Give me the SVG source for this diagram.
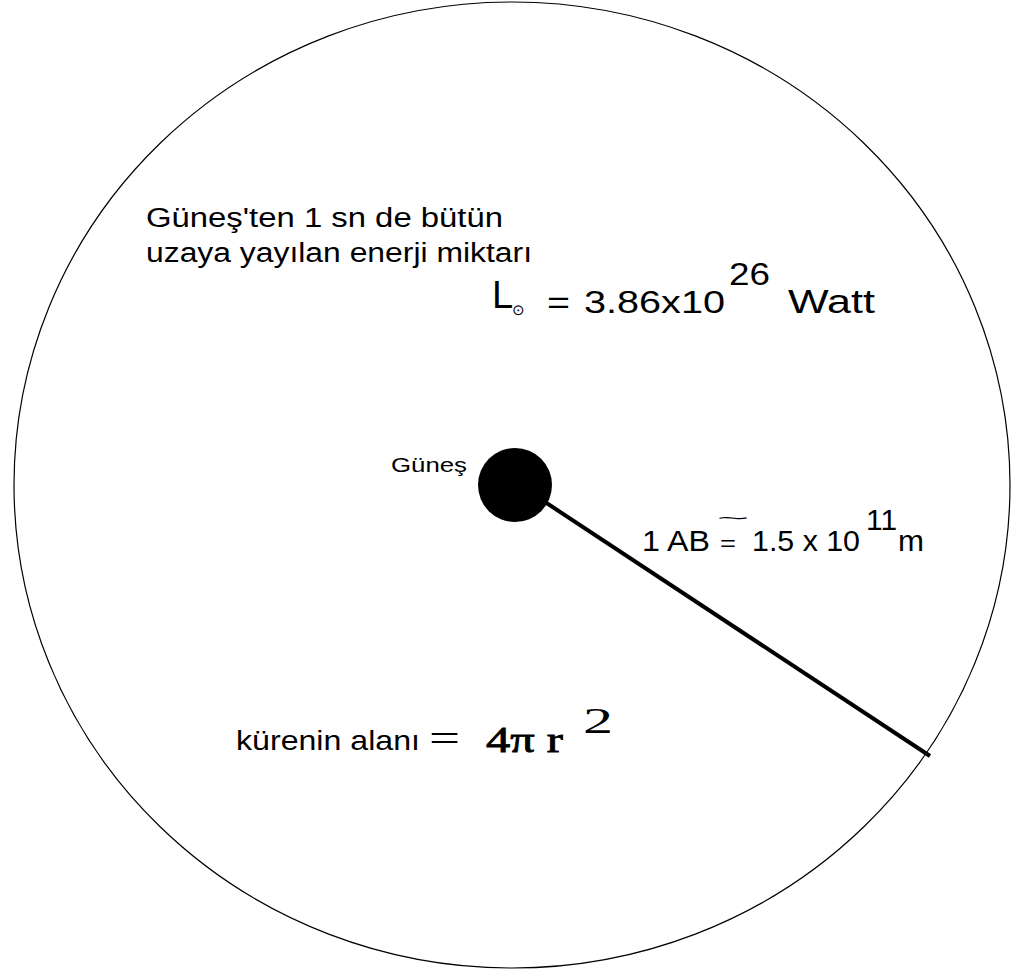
<svg xmlns="http://www.w3.org/2000/svg" width="1012" height="969" viewBox="0 0 1012 969">
<style>
.s{font-family:"Liberation Sans",Arial,sans-serif;fill:#000}
.t{font-family:"Liberation Serif","Times New Roman",serif;fill:#000}
</style>
<rect width="1012" height="969" fill="#fff"/>
<g id="space"><ellipse cx="512" cy="485" rx="498" ry="483" fill="none" stroke="#000" stroke-width="1.2"/></g>
<g id="connectors"><line x1="545" y1="502" x2="930" y2="756" stroke="#000" stroke-width="4"/></g>
<g id="sun"><circle cx="515" cy="485" r="37" fill="#000"/><text class="s" x="391" y="472" font-size="21" textLength="76" lengthAdjust="spacingAndGlyphs">Güneş</text></g>
<g id="energy-label">
<text class="s" x="146" y="227" font-size="27" textLength="357" lengthAdjust="spacingAndGlyphs">Güneş'ten 1 sn de bütün</text>
<text class="s" x="146" y="262" font-size="27" textLength="386" lengthAdjust="spacingAndGlyphs">uzaya yayılan enerji miktarı</text>
</g>
<g id="luminosity">
<text class="s" x="492" y="308" font-size="38">L</text>
<text class="s" x="512" y="315" font-size="15">⊙</text>
<text class="s" x="547" y="313" font-size="31" textLength="23" lengthAdjust="spacingAndGlyphs">=</text>
<text class="s" x="584" y="313" font-size="31" textLength="141" lengthAdjust="spacingAndGlyphs">3.86x10</text>
<text class="s" x="729" y="285" font-size="31" textLength="41" lengthAdjust="spacingAndGlyphs">26</text>
<text class="s" x="788" y="313" font-size="33" textLength="87" lengthAdjust="spacingAndGlyphs">Watt</text>
</g>
<g id="au">
<text class="s" x="642" y="551" font-size="29" textLength="68" lengthAdjust="spacingAndGlyphs">1 AB</text>
<text class="s" x="720" y="551" font-size="22" textLength="16" lengthAdjust="spacingAndGlyphs">=</text>
<text class="s" x="717" y="524" font-size="16" textLength="32" lengthAdjust="spacingAndGlyphs">~</text>
<text class="s" x="752" y="551" font-size="29" textLength="108" lengthAdjust="spacingAndGlyphs">1.5 x 10</text>
<text class="s" x="866" y="530" font-size="29" textLength="31" lengthAdjust="spacingAndGlyphs">11</text>
<text class="s" x="898" y="551" font-size="29" textLength="26" lengthAdjust="spacingAndGlyphs">m</text>
</g>
<g id="area">
<text class="s" x="236" y="750" font-size="28" textLength="184" lengthAdjust="spacingAndGlyphs">kürenin alanı</text>
<text class="t" x="429" y="752" font-size="40" textLength="31" lengthAdjust="spacingAndGlyphs">=</text>
<text class="t" x="486" y="752" font-size="36" stroke="#000" stroke-width="0.8" textLength="77" lengthAdjust="spacingAndGlyphs">4π r</text>
<text class="t" x="583" y="733" font-size="36" textLength="30" lengthAdjust="spacingAndGlyphs">2</text>
</g>
</svg>
